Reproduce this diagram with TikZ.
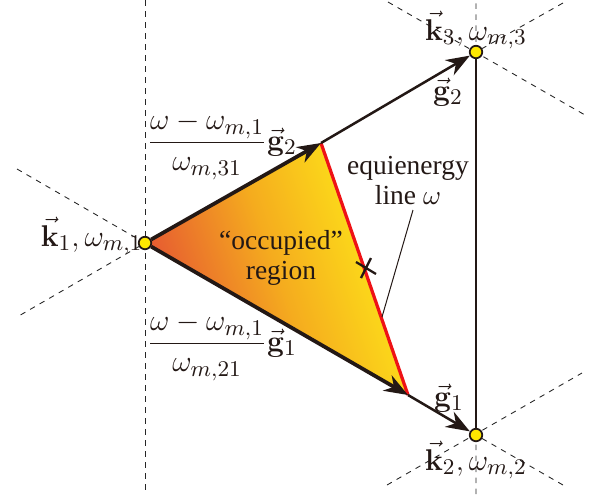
\documentclass[tikz,border=0pt]{standalone}
\usepackage{amsmath}
\usepackage[no-math]{fontspec}
\setmainfont{Liberation Serif}
\definecolor{inkdark}{RGB}{35,24,21}
\definecolor{siteyellow}{RGB}{255,232,0}
\definecolor{fillred}{RGB}{228,78,52}
\definecolor{fillorange}{RGB}{245,172,30}
\definecolor{fillyellow}{RGB}{255,238,24}
\definecolor{linered}{RGB}{238,18,22}
\usetikzlibrary{arrows.meta, backgrounds}

\begin{document}
\begin{tikzpicture}[x=0.4pt, y=-0.4pt,
    site/.style={circle, draw=inkdark, fill=siteyellow, line width=0.7pt,
                 inner sep=0pt, minimum size=5pt},
    guide/.style={dash pattern=on 2.2pt off 2.2pt, line width=0.35pt, black!85},
    vec/.style={-{Stealth[length=9.5pt, width=7pt, inset=3pt]}, inkdark, line width=1.5pt},
    vecthin/.style={vec, line width=1pt},
    mathlbl/.style={font=\fontsize{12.5}{14}\selectfont, text=inkdark, inner sep=0pt},
    txt/.style={font=\fontsize{11}{12}\selectfont, text=inkdark, align=center, inner sep=0pt}
  ]
  \useasboundingbox (0,0) rectangle (601,495);

  \node[mathlbl, anchor=base east] (k1lbl) at (143,246) {$\vec{\mathbf{k}}_1,\omega_{m,1}$};
  \node[mathlbl, anchor=base] (k3lbl) at (476,40) {$\vec{\mathbf{k}}_3,\omega_{m,3}$};
  \node[mathlbl, anchor=base] (k2lbl) at (476,470) {$\vec{\mathbf{k}}_2,\omega_{m,2}$};

  \node[site] (k1) at (145,243) {};
  \node[site] (k3) at (476,52) {};
  \node[site] (k2) at (476,435) {};
  \coordinate (a) at (321,143);
  \coordinate (b) at (408,395);
  \coordinate (c) at (366,268);
  \coordinate (p) at (382,317);
  \coordinate (q) at (413,210);

  \coordinate (t1) at (145,0);    \coordinate (b1) at (145,495);
  \coordinate (u1) at (17,169);   \coordinate (l1) at (17,317);
  \coordinate (u3) at (388,2);    \coordinate (r3) at (585,115);
  \coordinate (s3) at (563,3);    \coordinate (t3) at (476,0);
  \coordinate (l2) at (387,485);  \coordinate (r2) at (582,373);
  \coordinate (s2) at (563,485);  \coordinate (b2) at (476,495);

  \begin{scope}[on background layer]
    \draw[guide] (t1) -- (b1);
    \draw[guide] (u1) -- (k1.center) -- (l1);
    \draw[guide] (u3) -- (r3);
    \draw[guide] (s3) -- (k3.center) -- (t3);
    \draw[guide] (l2) -- (r2);
    \draw[guide] (s2) -- (k2.center) -- (b2);
    \shade[left color=fillred, right color=fillyellow, middle color=fillorange,
           shading angle=109] (k1.center) -- (a) -- (b) -- cycle;
  \end{scope}

  \draw[linered, line width=1.3pt] (a) -- (b);
  \draw[vec] (k1) -- (a);
  \draw[vecthin] (a) -- (k3);
  \draw[vec] (k1) -- (b);
  \draw[vecthin] (b) -- (k2);
  \draw[inkdark, line width=0.8pt] (k3) -- (k2);
  \draw[inkdark, line width=0.9pt] (c) +(-10,-6) -- +(10,6) (c) +(5,-10) -- +(-5,10);
  \draw[inkdark, line width=0.4pt] (q) -- (p);

  \node[mathlbl, anchor=base] (g2lbl) at (448,100) {$\vec{\mathbf{g}}_2$};
  \node[mathlbl, anchor=base] (g1lbl) at (449,406) {$\vec{\mathbf{g}}_1$};
  \node[mathlbl] (frac2) at (222,146) {$\dfrac{\omega-\omega_{m,1}}{\omega_{m,31}}\vec{\mathbf{g}}_2$};
  \node[mathlbl] (frac1) at (222,347) {$\dfrac{\omega-\omega_{m,1}}{\omega_{m,21}}\vec{\mathbf{g}}_1$};
  \node[txt] (eqlbl) at (408,181) {equienergy\\line $\omega$};
  \node[txt] (occlbl) at (281,258) {``occupied''\\region};
\end{tikzpicture}
\end{document}
